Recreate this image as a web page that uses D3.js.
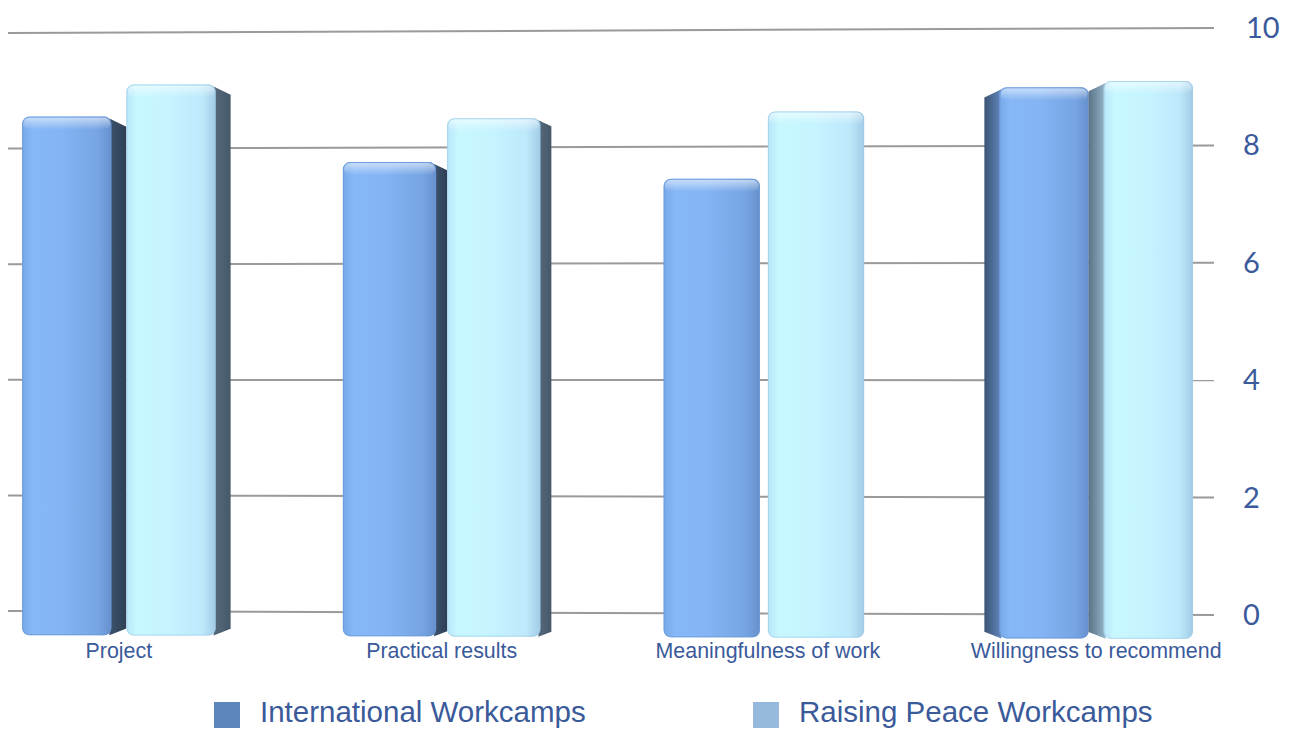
<!DOCTYPE html>
<html>
<head>
<meta charset="utf-8">
<script src="https://cdn.jsdelivr.net/npm/d3@7"></script>
<style>
  body { margin: 0; background: #fff; }
  svg { display: block; }
</style>
</head>
<body>
<svg class="chart" width="1290" height="729"></svg>
<script>
//------------------------------------------------------------------------------
//Data
//------------------------------------------------------------------------------
let categories = ["Project", "Practical results", "Meaningfulness of work", "Willingness to recommend"];
let seriesNames = ["International Workcamps", "Raising Peace Workcamps"];
let international = [8.55, 7.75, 7.45, 9.0];
let raisingPeace = [9.1, 8.5, 8.6, 9.1];
let yTicks = [0, 2, 4, 6, 8, 10];

main()

//------------------------------------------------------------------------------
//Main
//------------------------------------------------------------------------------
function main()
{
    var svg = d3.select(".chart");
    var defs = svg.append("defs");

    // the picture is a slightly tilted 3D chart, so the grid runs from a left to a right scale
    var gridLeft = 8, gridRight = 1214;
    var yLeft = d3.scaleLinear().domain([0, 10]).range([611, 33]);
    var yRight = d3.scaleLinear().domain([0, 10]).range([615, 28]);
    var frac = d3.scaleLinear().domain([gridLeft, gridRight]).range([0, 1]);
    function yAt(v, x) {
        return d3.interpolateNumber(yLeft(v), yRight(v))(frac(x));
    }

    var x0 = d3.scaleBand().domain(categories).range([-34, 1249]).paddingInner(0.35).paddingOuter(0.175);
    var x1 = d3.scaleBand().domain(seriesNames).range([0, x0.bandwidth()]);
    // side face width depends on where the group sits against the viewpoint
    var sideScale = d3.scaleLinear().domain([126, 447, 767, 1088]).range([15, 11, 0, -15]);

    // gradients
    function hGrad(id, stops) {
        var g = defs.append("linearGradient").attr("id", id)
            .attr("x1", "0%").attr("x2", "100%").attr("y1", "0%").attr("y2", "0%");
        stops.forEach(s => g.append("stop").attr("offset", s[0]).attr("stop-color", s[1]));
    }
    hGrad("frontIW", [["0%", "#76a8e8"], ["12%", "#86b7f6"], ["45%", "#84b4f3"], ["85%", "#77a5e4"], ["100%", "#6690cc"]]);
    hGrad("frontRP", [["0%", "#b9e6fa"], ["12%", "#c8f8ff"], ["50%", "#c5f3ff"], ["85%", "#bde9fb"], ["100%", "#a2cbe6"]]);
    hGrad("sideIWr", [["0%", "#3c526d"], ["100%", "#2e3f54"]]);
    hGrad("sideRPr", [["0%", "#56697b"], ["100%", "#46596b"]]);
    hGrad("sideIWl", [["0%", "#3b5474"], ["100%", "#6288bd"]]);
    hGrad("sideRPl", [["0%", "#5a7387"], ["100%", "#97b6cb"]]);
    var vg = defs.append("linearGradient").attr("id", "topShine")
        .attr("x1", "0%").attr("x2", "0%").attr("y1", "0%").attr("y2", "100%");
    vg.append("stop").attr("offset", "0%").attr("stop-color", "#ffffff").attr("stop-opacity", 0.55);
    vg.append("stop").attr("offset", "100%").attr("stop-color", "#ffffff").attr("stop-opacity", 0);

    // grid lines
    svg.append("g").selectAll("line")
        .data(yTicks)
        .enter()
        .append("line")
        .attr("x1", gridLeft).attr("x2", gridRight)
        .attr("y1", d => yLeft(d)).attr("y2", d => yRight(d))
        .attr("stroke", "#9a9a9a")
        .attr("stroke-width", 2);

    // tick labels
    svg.append("g").selectAll("text")
        .data(yTicks)
        .enter()
        .append("text")
        .attr("x", d => d >= 10 ? 1246 : 1243)
        .attr("y", d => yRight(d) + 10)
        .attr("fill", "#3a5a9c")
        .style("font-family", "Lato, 'Open Sans', sans-serif")
        .style("font-size", "29px")
        .text(d => d);

    // bars
    var bars = [];
    categories.forEach((c, i) => {
        bars.push({cat: c, s: 0, value: international[i]});
        bars.push({cat: c, s: 1, value: raisingPeace[i]});
    });

    var barG = svg.append("g");
    bars.forEach(b => {
        var bx = x0(b.cat) + x1(seriesNames[b.s]);
        var bw = x1.bandwidth();
        var side = sideScale(x0(b.cat) + x0.bandwidth() / 2);
        var cx = bx + bw / 2;
        var top = yAt(b.value, cx);
        var bottom = yAt(0, cx) + 24;
        var fx, fw;
        if (side > -1) { fx = bx; fw = bw - Math.max(side, 8); }
        else { fx = bx - side; fw = bw + side; }
        var r = 7;
        var key = b.s === 0 ? "IW" : "RP";

        // side face
        if (Math.abs(side) > 1) {
            var edge = side >= 0 ? fx + fw - 2 : fx + 2;
            var outer = side >= 0 ? fx + fw + side : bx;
            var k = Math.abs(side);
            var pts = [[edge, top + 2], [outer, top + 2 + k * 0.55], [outer, bottom - k * 0.45], [edge, bottom]];
            barG.append("path")
                .attr("d", d3.line()(pts) + "Z")
                .attr("fill", "url(#side" + key + (side >= 0 ? "r" : "l") + ")");
        }
        // front face
        barG.append("rect")
            .attr("x", fx).attr("y", top)
            .attr("width", fw).attr("height", bottom - top)
            .attr("rx", r).attr("ry", r)
            .attr("fill", "url(#front" + key + ")");
        // shine near the top edge
        barG.append("rect")
            .attr("x", fx + 1).attr("y", top + 1)
            .attr("width", fw - 2).attr("height", 12)
            .attr("rx", r - 1).attr("ry", r - 1)
            .attr("fill", "url(#topShine)");
        barG.append("rect")
            .attr("x", fx + 0.5).attr("y", top + 0.5)
            .attr("width", fw - 1).attr("height", bottom - top - 1)
            .attr("rx", r).attr("ry", r)
            .attr("fill", "none")
            .attr("stroke", b.s === 0 ? "#6a97d4" : "#9fcbe6")
            .attr("stroke-opacity", 0.7);
    });

    // category labels
    svg.append("g").selectAll("text")
        .data(categories)
        .enter()
        .append("text")
        .attr("x", d => {
            var c = x0(d) + x0.bandwidth() / 2;
            return c - sideScale(c) / 2;
        })
        .attr("y", 658)
        .attr("text-anchor", "middle")
        .attr("fill", "#3a5a9a")
        .style("font-family", "'Liberation Sans', Arial, sans-serif")
        .style("font-size", "21.4px")
        .text(d => d);

    // legend
    var legendColor = d3.scaleOrdinal().domain(seriesNames).range(["#5d86bd", "#97b9de"]);
    var legendX = d3.scalePoint().domain(seriesNames).range([214, 753]);
    var lg = svg.append("g").selectAll("g")
        .data(seriesNames)
        .enter()
        .append("g")
        .attr("transform", d => "translate(" + legendX(d) + ",702)");
    lg.append("rect")
        .attr("width", 26).attr("height", 26)
        .attr("fill", d => legendColor(d));
    lg.append("text")
        .attr("x", 46).attr("y", 20)
        .attr("fill", "#3a5a9a")
        .style("font-family", "'Liberation Sans', Arial, sans-serif")
        .style("font-size", "29.5px")
        .text(d => d);
}
</script>
</body>
</html>
